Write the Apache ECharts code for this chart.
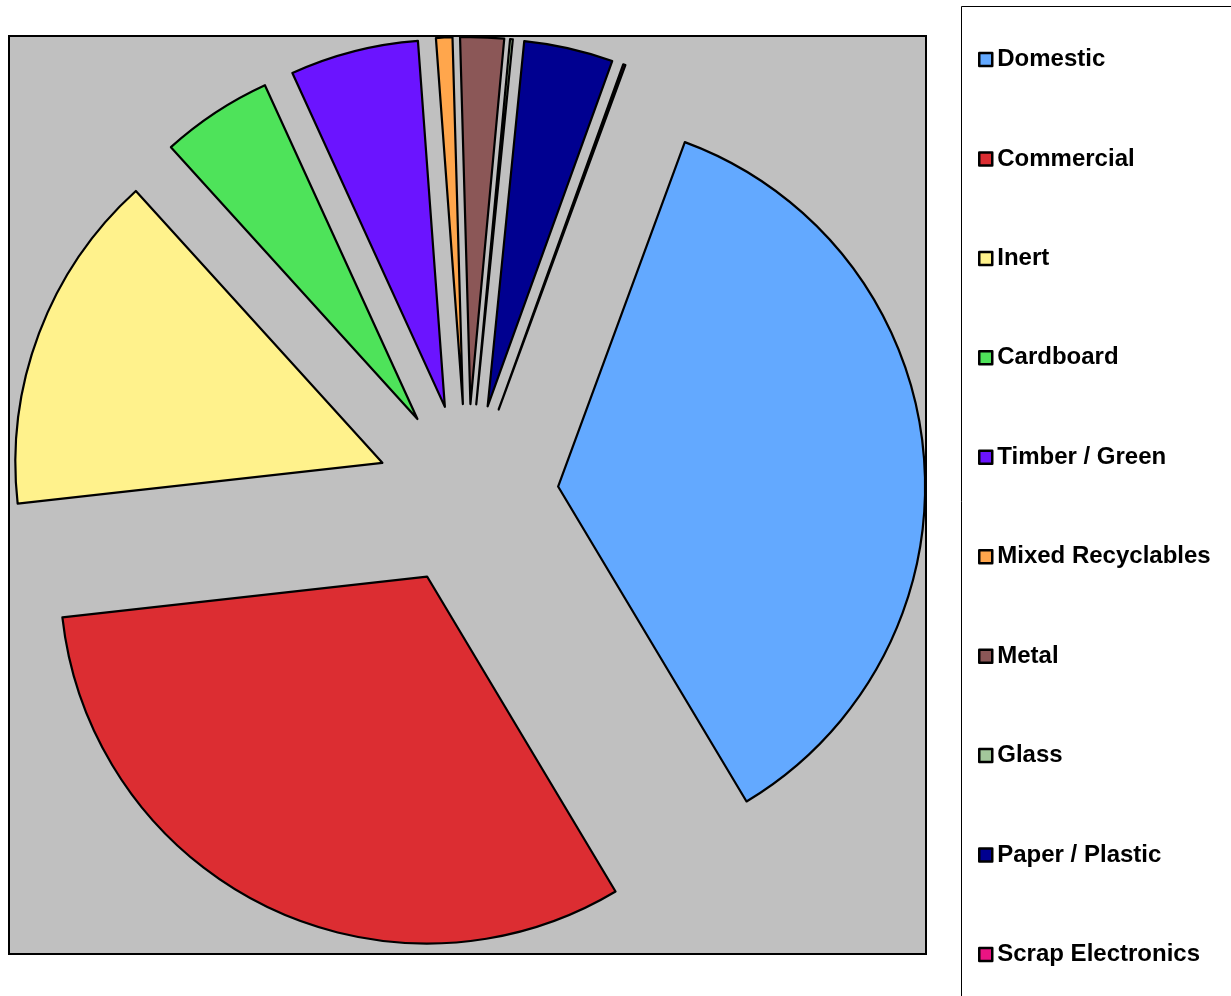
<!DOCTYPE html>
<html>
<head>
<meta charset="utf-8">
<script src="https://cdn.jsdelivr.net/npm/echarts@6/dist/echarts.min.js"></script>
<style>
html,body{margin:0;padding:0;background:#fff;}
#chart{width:1231px;height:996px;}
</style>
</head>
<body>
<div id="chart"></div>
<script>
const categories = ["Domestic","Commercial","Inert","Cardboard","Timber / Green","Mixed Recyclables","Metal","Glass","Paper / Plastic","Scrap Electronics"];
const values = [35.8, 31.8, 15.05, 4.9, 5.65, 0.72, 1.92, 0.12, 3.92, 0.1];
const colors = ["#63A9FF","#DC2D32","#FFF28C","#4EE35A","#6B14FF","#FFA64C","#8B5757","#A3C79B","#000090","#EB1483"];

const chart = echarts.init(document.getElementById('chart'), null, {renderer:'canvas'});
const data = categories.map((c,i)=>({name:c, value:values[i], selected:true, itemStyle:{color:colors[i]}}));

chart.setOption({
  animation:false,
  backgroundColor:'#fff',
  color: colors,
  graphic:[
    {type:'rect', z:-10, shape:{x:9, y:36, width:917, height:918}, style:{fill:'#C0C0C0', stroke:'#000', lineWidth:2}},
    {type:'rect', z:-10, shape:{x:961.5, y:6.5, width:300, height:1000}, style:{fill:'#fff', stroke:'#000', lineWidth:1}}
  ],
  legend:{
    orient:'vertical',
    left:973,
    top:42.5,
    icon:'rect',
    itemWidth:13,
    itemHeight:13,
    itemGap:75.44,
    selectedMode:false,
    itemStyle:{borderColor:'#000', borderWidth:2.5},
    textStyle:{fontFamily:'"Liberation Sans", Arial, sans-serif', fontWeight:'bold', fontSize:24, lineHeight:24, color:'#000'},
    data: categories
  },
  series:[{
    type:'pie',
    center:[467.5, 495],
    radius:[0, 367],
    startAngle:69.8,
    clockwise:true,
    selectedMode:'multiple',
    selectedOffset:91,
    avoidLabelOverlap:false,
    minAngle:0,
    label:{show:false},
    labelLine:{show:false},
    emphasis:{disabled:true},
    itemStyle:{borderColor:'#000', borderWidth:2.2},
    select:{itemStyle:{borderColor:'#000', borderWidth:2.2}},
    data:data
  }]
});
</script>
</body>
</html>
